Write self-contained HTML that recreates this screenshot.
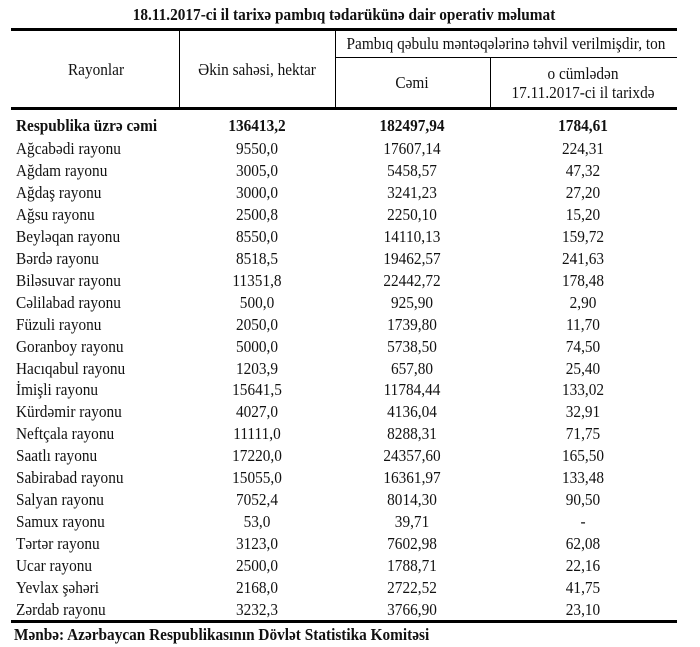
<!DOCTYPE html>
<html><head><meta charset="utf-8"><style>
body{margin:0;width:700px;height:647px;background:#fff;position:relative;font-family:"Liberation Serif",serif;color:#111;overflow:hidden}
.t{position:absolute;white-space:nowrap;font-size:17px;line-height:18px;transform:scaleX(0.9);transform-origin:0 50%}
.c{transform:translateX(-50%) scaleX(0.9);transform-origin:50% 50%}
.b{font-weight:bold}
.h{position:absolute;background:#000}
</style></head><body>
<div class="t b c" style="left:344px;top:6px;font-size:17px">18.11.2017-ci il tarixə pambıq tədarükünə dair operativ məlumat</div>
<div class="h" style="left:11px;top:28px;width:666px;height:3px"></div>
<div class="h" style="left:179px;top:31px;width:1px;height:78px"></div>
<div class="h" style="left:335px;top:31px;width:1px;height:78px"></div>
<div class="h" style="left:490px;top:57px;width:1px;height:52px"></div>
<div class="h" style="left:335px;top:57px;width:342px;height:1px"></div>
<div class="h" style="left:11px;top:107px;width:666px;height:3px"></div>
<div class="h" style="left:11px;top:620px;width:666px;height:3px"></div>
<div class="t c" style="left:96px;top:61px">Rayonlar</div>
<div class="t c" style="left:257px;top:61px">Əkin sahəsi, hektar</div>
<div class="t c" style="left:506px;top:35px">Pambıq qəbulu məntəqələrinə təhvil verilmişdir, ton</div>
<div class="t c" style="left:412px;top:74px">Cəmi</div>
<div class="t c" style="left:583px;top:65px">o cümlədən</div>
<div class="t c" style="left:583px;top:84px">17.11.2017-ci il tarixdə</div>
<div id="rows"></div>
<div class="t b" style="left:14px;top:626px">Mənbə: Azərbaycan Respublikasının Dövlət Statistika Komitəsi</div>
<script>
var d=[["Respublika üzrə cəmi","136413,2","182497,94","1784,61"],
["Ağcabədi rayonu","9550,0","17607,14","224,31"],
["Ağdam rayonu","3005,0","5458,57","47,32"],
["Ağdaş rayonu","3000,0","3241,23","27,20"],
["Ağsu rayonu","2500,8","2250,10","15,20"],
["Beyləqan rayonu","8550,0","14110,13","159,72"],
["Bərdə rayonu","8518,5","19462,57","241,63"],
["Biləsuvar rayonu","11351,8","22442,72","178,48"],
["Cəlilabad rayonu","500,0","925,90","2,90"],
["Füzuli rayonu","2050,0","1739,80","11,70"],
["Goranboy rayonu","5000,0","5738,50","74,50"],
["Hacıqabul rayonu","1203,9","657,80","25,40"],
["İmişli rayonu","15641,5","11784,44","133,02"],
["Kürdəmir rayonu","4027,0","4136,04","32,91"],
["Neftçala rayonu","11111,0","8288,31","71,75"],
["Saatlı rayonu","17220,0","24357,60","165,50"],
["Sabirabad rayonu","15055,0","16361,97","133,48"],
["Salyan rayonu","7052,4","8014,30","90,50"],
["Samux rayonu","53,0","39,71","-"],
["Tərtər rayonu","3123,0","7602,98","62,08"],
["Ucar rayonu","2500,0","1788,71","22,16"],
["Yevlax şəhəri","2168,0","2722,52","41,75"],
["Zərdab rayonu","3232,3","3766,90","23,10"]];
var h="";
d.forEach(function(r,i){
 var y=i==0?117:140+(i-1)*21.95; var b=i==0?" b":"";
 h+='<div class="t'+b+'" style="left:16px;top:'+y+'px">'+r[0]+'</div>';
 h+='<div class="t c'+b+'" style="left:257px;top:'+y+'px">'+r[1]+'</div>';
 h+='<div class="t c'+b+'" style="left:412px;top:'+y+'px">'+r[2]+'</div>';
 h+='<div class="t c'+b+'" style="left:583px;top:'+y+'px">'+r[3]+'</div>';
});
document.getElementById("rows").innerHTML=h;
</script>
</body></html>
